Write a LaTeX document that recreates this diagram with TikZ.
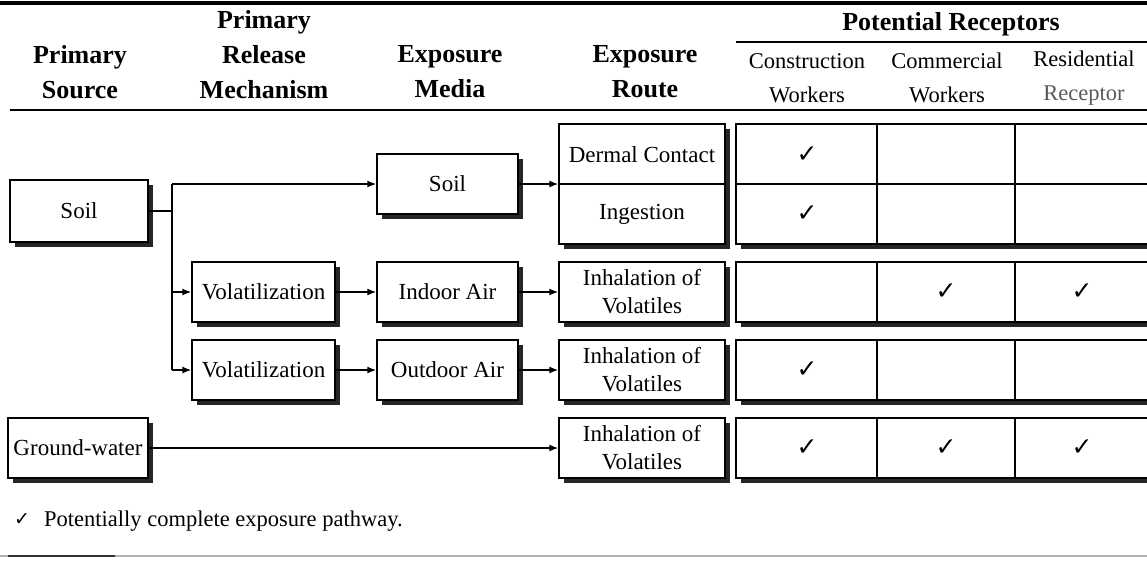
\documentclass[tikz,border=0pt]{standalone}
\usepackage{fontspec}
\setmainfont{Liberation Serif}
\newfontfamily\ckfont{DejaVu Sans}
\usetikzlibrary{shadows,arrows.meta}
\begin{document}
\begin{tikzpicture}[x=1pt,y=-1pt,
  box/.style={draw=black, line width=1.4pt, fill=white, inner sep=0pt, align=center,
    font=\fontsize{23}{28}\selectfont,
    drop shadow={shadow xshift=5pt, shadow yshift=-5pt, opacity=1, fill=black!85}},
  txt/.style={inner sep=0pt, align=center, font=\fontsize{23}{28}\selectfont},
  hd/.style={font=\fontsize{26}{35}\selectfont\bfseries, align=center, inner sep=0pt},
  sub/.style={font=\fontsize{22.5}{34}\selectfont, align=center, inner sep=0pt},
  ck/.style={font=\ckfont\fontsize{25}{25}\selectfont, inner sep=0pt},
  div/.style={line width=1.1pt},
  conn/.style={line width=1.4pt},
  arr/.style={conn, -{Latex[length=9pt,width=7pt]}}]
\useasboundingbox (0,0) rectangle (1147,560);

% rules
\draw[line width=3.5pt] (0,3) -- (1147,3);
\draw[line width=2pt] (10,110) -- (1147,110);
\draw[line width=1.6pt] (736,42) -- (1147,42);
\draw[line width=1.2pt, black!30] (0,556) -- (1147,556);
\draw[line width=2pt, black!80] (8,556) -- (115,556);

% headers
\node[hd] (hsrc) at (80,72) {Primary\\Source};
\node[hd] (hrel) at (264,55) {Primary\\Release\\Mechanism};
\node[hd] (hmed) at (450,72) {Exposure\\Media};
\node[hd] (hrte) at (645,72) {Exposure\\Route};
\node[hd] (hrec) at (951,24) {Potential Receptors};
\node[sub] (hc1) at (807,78) {Construction\\Workers};
\node[sub] (hc2) at (947,78) {Commercial\\Workers};
\node[sub] (hc3) at (1084,78) {Residential\\{\color{black!65}Receptor}};

% sources
\node[box, minimum width=138, minimum height=62] (ssoil) at (79,211) {Soil};
\node[box, minimum width=140, minimum height=60] (sgw) at (78,448) {Ground-water};

% release mechanisms
\node[box, minimum width=143, minimum height=60] (v1) at (263.5,292) {Volatilization};
\node[box, minimum width=143, minimum height=60] (v2) at (263.5,370) {Volatilization};

% media
\node[box, minimum width=141, minimum height=60] (msoil) at (447.5,184) {Soil};
\node[box, minimum width=141, minimum height=60] (mind) at (447.5,292) {Indoor Air};
\node[box, minimum width=141, minimum height=60] (mout) at (447.5,370) {Outdoor Air};

% routes
\node[box, minimum width=166, minimum height=120] (rA) at (642,184) {};
\node[txt] (tder) at (642,155) {Dermal Contact};
\node[txt] (ting) at (642,214) {Ingestion};
\draw[div] (rA.west) -- (rA.east);
\node[box, minimum width=166, minimum height=60] (rB) at (642,292) {Inhalation of\\Volatiles};
\node[box, minimum width=166, minimum height=60] (rC) at (642,370) {Inhalation of\\Volatiles};
\node[box, minimum width=166, minimum height=60] (rD) at (642,448) {Inhalation of\\Volatiles};

% receptor table
\node[box, minimum width=413, minimum height=120] (tA) at (942.5,184) {};
\node[box, minimum width=413, minimum height=60] (tB) at (942.5,292) {};
\node[box, minimum width=413, minimum height=60] (tC) at (942.5,370) {};
\node[box, minimum width=413, minimum height=60] (tD) at (942.5,448) {};
\draw[div] (tA.west) -- (tA.east);
\foreach \t in {tA,tB,tC,tD}{
  \draw[div] (877,0 |- \t.north) -- (877,0 |- \t.south);
  \draw[div] (1015,0 |- \t.north) -- (1015,0 |- \t.south);
}

% checks
\node[ck] (kA1) at (807,155) {✓};
\node[ck] (kA2) at (807,214) {✓};
\node[ck] (kB2) at (946,292) {✓};
\node[ck] (kB3) at (1082,292) {✓};
\node[ck] (kC1) at (807,370) {✓};
\node[ck] (kD1) at (807,448) {✓};
\node[ck] (kD2) at (946,448) {✓};
\node[ck] (kD3) at (1082,448) {✓};

% connectors
\coordinate (br) at (172,211);
\draw[conn] (ssoil.east) -- (br);
\draw[conn] (br |- msoil.west) -- (br |- v2.west);
\draw[arr] (br |- msoil.west) -- (msoil.west);
\draw[arr] (br |- v1.west) -- (v1.west);
\draw[arr] (br |- v2.west) -- (v2.west);
\draw[arr] (v1.east) -- (mind.west);
\draw[arr] (v2.east) -- (mout.west);
\draw[arr] (msoil.east) -- (rA.west);
\draw[arr] (mind.east) -- (rB.west);
\draw[arr] (mout.east) -- (rC.west);
\draw[arr] (sgw.east) -- (rD.west);

% footnote
\node[ck, font=\ckfont\fontsize{19}{19}\selectfont] (fk) at (22,520) {✓};
\node[anchor=west, inner sep=0pt, font=\fontsize{22.5}{22.5}\selectfont] (fn) at (44,521) {Potentially complete exposure pathway.};
\end{tikzpicture}
\end{document}
